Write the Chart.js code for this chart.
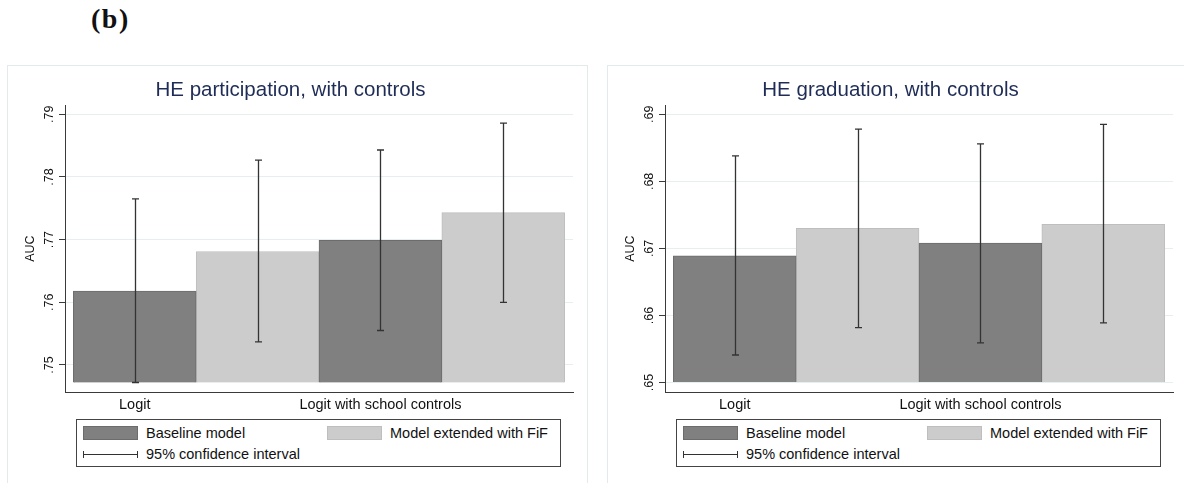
<!DOCTYPE html>
<html>
<head>
<meta charset="utf-8">
<script src="https://cdn.jsdelivr.net/npm/chart.js@4.4.1/dist/chart.umd.min.js"></script>
<style>
  html, body { margin: 0; padding: 0; background: #fff; }
  body { width: 1184px; height: 483px; overflow: hidden; position: relative; font-family: 'Liberation Sans', Arial, sans-serif; }
  .tag { position: absolute; left: 91px; top: 3px; font: bold 28px 'Liberation Serif', 'Times New Roman', serif; color: #111; letter-spacing: 1.5px; }
  .panel { position: absolute; top: 65px; width: 579px; height: 430px; border: 1px solid #e2eaec; background: #fff; }
  .panel canvas { position: absolute; left: 0; top: 0; }
  .legend { position: absolute; left: 68px; top: 353px; width: 485px; height: 48px; box-sizing: border-box; border: 1px solid #444; background: #fff; }
  .legend .sw { position: absolute; top: 6px; width: 55px; height: 14px; box-sizing: border-box; }
  .legend .lbl { position: absolute; height: 18px; line-height: 18px; font-size: 14.5px; color: #111; white-space: nowrap; }
  .legend .ci { position: absolute; left: 6px; top: 31px; width: 55px; height: 7px; box-sizing: border-box; border-left: 1px solid #333; border-right: 1px solid #333; }
  .legend .ci::after { content: ''; position: absolute; left: 0; right: 0; top: 3px; height: 1px; background: #333; }
</style>
</head>
<body>
<div class="tag">(b)</div>

<div class="panel" style="left:7px">
  <canvas id="partChart" width="579" height="418"></canvas>
  <div class="legend" id="partLegend"></div>
</div>
<div class="panel" style="left:607px">
  <canvas id="gradChart" width="579" height="418"></canvas>
  <div class="legend" id="gradLegend"></div>
</div>

<script>
// categories on the x axis (each has a baseline bar and an extended bar)
const categories = ['Logit', 'Logit with school controls'];
const seriesNames = ['Baseline model', 'Model extended with FiF'];
const ciName = '95% confidence interval';

// HE participation panel
const partTicks = [0.75, 0.76, 0.77, 0.78, 0.79];
const partRange = [0.74564, 0.79148];
const partBase = 0.7472;
const partBaseline = [0.7618, 0.7699];
const partBaselineLow = [0.7472, 0.7555];
const partBaselineHigh = [0.7765, 0.7843];
const partExtended = [0.7681, 0.7743];
const partExtendedLow = [0.7537, 0.7600];
const partExtendedHigh = [0.7827, 0.7886];

// HE graduation panel
const gradTicks = [0.65, 0.66, 0.67, 0.68, 0.69];
const gradRange = [0.64854, 0.69139];
const gradBase = 0.65;
const gradBaseline = [0.6689, 0.6708];
const gradBaselineLow = [0.6541, 0.6559];
const gradBaselineHigh = [0.6838, 0.6856];
const gradExtended = [0.6730, 0.6736];
const gradExtendedLow = [0.6582, 0.6589];
const gradExtendedHigh = [0.6878, 0.6885];

const COLORS = {
  dark: '#808080',
  darkEdge: '#6c6c6c',
  light: '#cccccc',
  lightEdge: '#bebebe',
  title: '#1e2c56',
  grid: '#e6eef0',
  axis: '#3a3a3a',
  text: '#111111',
};
const FONT = "'Liberation Sans', Arial, sans-serif";

// vertical CI whiskers drawn from each dataset's ciLow/ciHigh through the y scale
const errorBars = {
  id: 'errorBars',
  afterDatasetsDraw(chart) {
    const { ctx, scales: { y } } = chart;
    ctx.save();
    ctx.strokeStyle = '#333333';
    ctx.lineWidth = 1.3;
    chart.data.datasets.forEach((ds, di) => {
      chart.getDatasetMeta(di).data.forEach((bar, i) => {
        const top = y.getPixelForValue(ds.ciHigh[i]);
        const bottom = y.getPixelForValue(ds.ciLow[i]);
        const x = Math.round(bar.x) + 0.5;
        ctx.beginPath();
        ctx.moveTo(x, top); ctx.lineTo(x, bottom);
        ctx.moveTo(x - 3.5, top); ctx.lineTo(x + 3.5, top);
        ctx.moveTo(x - 3.5, bottom); ctx.lineTo(x + 3.5, bottom);
        ctx.stroke();
      });
    });
    ctx.restore();
  },
};

function points(values, slot) {
  // group g puts baseline at 1+2g and extended at 2+2g
  return values.map((v, g) => ({ x: 1 + 2 * g + slot, y: v }));
}

function buildLegend(el, chart) {
  const ds = chart.data.datasets;
  const lefts = [[6, 69], [250, 313]];
  let html = '';
  ds.forEach((d, i) => {
    html += `<div class="sw" style="left:${lefts[i][0]}px;background:${d.backgroundColor};border:1px solid ${d.borderColor}"></div>`;
    html += `<div class="lbl" style="left:${lefts[i][1]}px;top:4px">${d.label}</div>`;
  });
  html += `<div class="ci"></div><div class="lbl" style="left:69px;top:25px">${ciName}</div>`;
  el.innerHTML = html;
}

function renderPanel(canvasId, legendId, title, p) {
  const chart = new Chart(document.getElementById(canvasId), {
    type: 'bar',
    data: {
      datasets: [
        {
          label: seriesNames[0],
          data: points(p.baseline, 0),
          ciLow: p.baselineLow,
          ciHigh: p.baselineHigh,
          base: p.base,
          backgroundColor: COLORS.dark,
          borderColor: COLORS.darkEdge,
          borderWidth: 1,
          grouped: false,
          categoryPercentage: 1,
          barPercentage: 1,
        },
        {
          label: seriesNames[1],
          data: points(p.extended, 1),
          ciLow: p.extendedLow,
          ciHigh: p.extendedHigh,
          base: p.base,
          backgroundColor: COLORS.light,
          borderColor: COLORS.lightEdge,
          borderWidth: 1,
          grouped: false,
          categoryPercentage: 1,
          barPercentage: 1,
        },
      ],
    },
    options: {
      responsive: false,
      animation: false,
      layout: { padding: { left: 0, right: 14, top: 0, bottom: 0 } },
      plugins: {
        legend: { display: false },
        tooltip: { enabled: false },
        title: {
          display: true,
          text: title,
          color: COLORS.title,
          font: { family: FONT, size: 20.5, weight: 'normal' },
          padding: { top: 12.5, bottom: 1.9 },
        },
      },
      scales: {
        x: {
          type: 'linear',
          offset: false,
          min: 0.432,
          max: 4.568,
          afterBuildTicks: (scale) => { scale.ticks = categories.map((c, g) => ({ value: 1 + 2 * g })); },
          afterFit: (scale) => { scale.height = 91.7; },
          grid: { display: false, drawTicks: false },
          border: { display: true, color: COLORS.axis, width: 1 },
          ticks: {
            padding: 4,
            color: COLORS.text,
            font: { family: FONT, size: 14.5 },
            callback: (v, i) => categories[i],
          },
        },
        y: {
          min: p.range[0],
          max: p.range[1],
          afterBuildTicks: (scale) => { scale.ticks = p.ticks.map((value) => ({ value })); },
          afterFit: (scale) => { scale.width = 57; },
          grid: { color: COLORS.grid, tickColor: COLORS.axis, tickLength: 6 },
          border: { display: true, color: COLORS.axis, width: 1 },
          title: {
            display: true,
            text: 'AUC',
            color: COLORS.text,
            font: { family: FONT, size: 12.5 },
            padding: { top: 15.5, bottom: 0 },
          },
          ticks: {
            autoSkip: false,
            minRotation: 90,
            maxRotation: 90,
            crossAlign: 'center',
            padding: 1,
            color: COLORS.text,
            font: { family: FONT, size: 12.5 },
            callback: (v) => v.toFixed(2).replace(/^0/, ''),
          },
        },
      },
    },
    plugins: [errorBars],
  });
  buildLegend(document.getElementById(legendId), chart);
}

renderPanel('partChart', 'partLegend', 'HE participation, with controls', {
  ticks: partTicks, range: partRange, base: partBase,
  baseline: partBaseline, baselineLow: partBaselineLow, baselineHigh: partBaselineHigh,
  extended: partExtended, extendedLow: partExtendedLow, extendedHigh: partExtendedHigh,
});
renderPanel('gradChart', 'gradLegend', 'HE graduation, with controls', {
  ticks: gradTicks, range: gradRange, base: gradBase,
  baseline: gradBaseline, baselineLow: gradBaselineLow, baselineHigh: gradBaselineHigh,
  extended: gradExtended, extendedLow: gradExtendedLow, extendedHigh: gradExtendedHigh,
});
</script>
</body>
</html>
